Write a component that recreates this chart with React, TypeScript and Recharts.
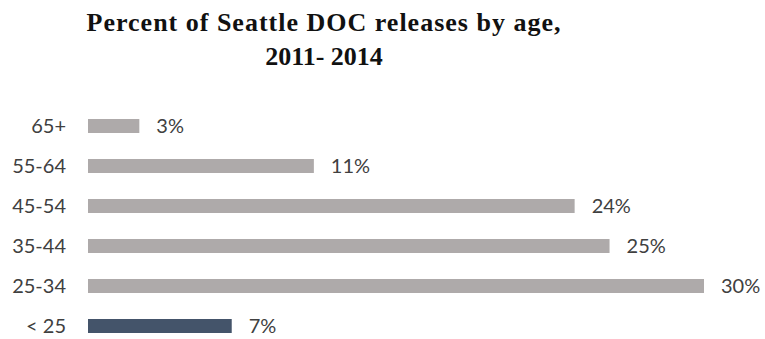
import { BarChart, Bar, XAxis, YAxis, Cell, LabelList } from 'recharts'

const ageGroups = ['65+', '55-64', '45-54', '35-44', '25-34', '< 25']
const releasePct = [2.5, 11, 23.7, 25.4, 30, 7]
const highlightGroup = '< 25'

const data = ageGroups.map((age, i) => ({ age, pct: releasePct[i] }))

const GREY = '#AEAAAA'
const DARK = '#44546A'
const TEXT = '#404040'
const FONT = 'Lato, "Open Sans", sans-serif'

export default function App() {
  return (
    <div style={{ position: 'absolute', left: 0, top: 0, width: 765, height: 339, overflow: 'hidden', background: '#fff' }}>
      <div
        style={{
          position: 'absolute',
          left: 0,
          top: 6,
          width: 648,
          textAlign: 'center',
          fontFamily: '"Liberation Serif", serif',
          fontWeight: 700,
          fontSize: 26,
          lineHeight: '34px',
          color: '#111',
        }}
      >
        <span style={{ letterSpacing: 1 }}>Percent of Seattle DOC releases by age,</span>
        <br />
        2011- 2014
      </div>
      <div style={{ position: 'absolute', left: 0, top: 0 }}>
        <BarChart
          width={765}
          height={360}
          data={data}
          layout="vertical"
          margin={{ top: 106, right: 61, bottom: 14, left: 0 }}
        >
          <XAxis type="number" domain={[0, 30]} hide />
          <YAxis
            type="category"
            dataKey="age"
            width={88}
            axisLine={false}
            tickLine={false}
            tickSize={0}
            tickMargin={22}
            tick={{ fill: TEXT, fontSize: 20, fontFamily: FONT }}
          />
          <Bar dataKey="pct" barSize={14} isAnimationActive={false}>
            {data.map(d => (
              <Cell key={d.age} fill={d.age === highlightGroup ? DARK : GREY} />
            ))}
            <LabelList
              dataKey="pct"
              position="right"
              offset={17}
              formatter={(v: unknown) => `${Math.round(Number(v))}%`}
              style={{ fill: TEXT, fontSize: 20, fontFamily: FONT }}
            />
          </Bar>
        </BarChart>
      </div>
    </div>
  )
}
